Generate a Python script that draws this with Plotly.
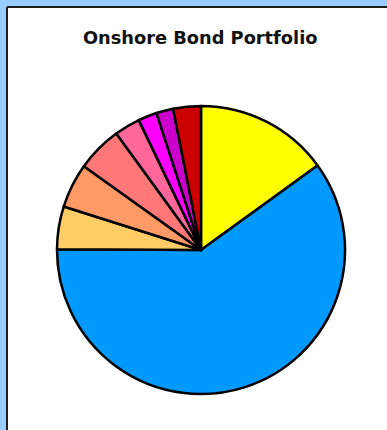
import plotly.graph_objects as go

# Portfolio allocation (% of holdings), clockwise from 12 o'clock
sectors = [
    "Government", "Corporate", "Municipal", "Agency",
    "Mortgage-Backed", "Asset-Backed", "Convertible", "High Yield", "Cash",
]
weights = [15.0, 60.0, 4.8, 5.0, 5.1, 2.9, 2.1, 1.9, 3.1]
colors = [
    "#ffff00", "#0099ff", "#ffcc66", "#ff9966", "#ff7777",
    "#ff6699", "#ff00ff", "#cc00cc", "#cc0000",
]

W, H = 387, 430

fig = go.Figure(
    go.Pie(
        labels=sectors,
        values=weights,
        sort=False,
        direction="clockwise",
        rotation=0,
        textinfo="none",
        marker=dict(colors=colors, line=dict(color="black", width=2.5)),
        domain=dict(x=[57 / W, 345 / W], y=[1 - 394 / H, 1 - 106 / H]),
        showlegend=False,
    )
)

# white panel with a dark top/left edge over the light blue page
px0, py0 = 7 / W, 1 - 7 / H
fig.add_shape(type="rect", xref="paper", yref="paper",
              x0=px0, y0=-0.05, x1=1.05, y1=py0,
              fillcolor="white", line=dict(width=0), layer="below")
fig.add_shape(type="line", xref="paper", yref="paper",
              x0=px0, y0=py0, x1=1.05, y1=py0,
              line=dict(color="#1c1c1c", width=2))
fig.add_shape(type="line", xref="paper", yref="paper",
              x0=px0, y0=py0, x1=px0, y1=-0.05,
              line=dict(color="#1c1c1c", width=2))

fig.add_annotation(
    text="<b>Onshore Bond Portfolio</b>",
    xref="paper", yref="paper", x=200 / W, y=1 - 37 / H,
    xanchor="center", yanchor="middle", showarrow=False,
    font=dict(family="DejaVu Sans", size=17.8, color="#111111"),
)

fig.update_layout(
    width=W, height=H,
    margin=dict(l=0, r=0, t=0, b=0),
    paper_bgcolor="#99ccff",
    plot_bgcolor="white",
)

fig.write_html("out.html")
